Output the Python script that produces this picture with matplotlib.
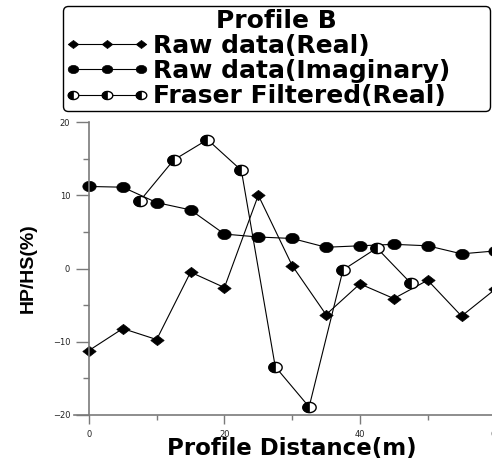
import numpy as np
import matplotlib
matplotlib.use("Agg")
from matplotlib import pyplot as plt
from matplotlib.path import Path
from matplotlib.lines import Line2D
from matplotlib.ticker import MultipleLocator

# values
raw_x = [0, 5, 10, 15, 20, 25, 30, 35, 40, 45, 50, 55, 60]
raw_real = [-11.2, -8.2, -9.7, -0.5, -2.6, 10.0, 0.4, -6.3, -2.1, -4.1, -1.6, -6.5, -2.8]
raw_imag = [11.2, 11.1, 9.0, 8.0, 4.7, 4.3, 4.1, 2.9, 3.1, 3.3, 3.1, 2.0, 2.4]
fraser_x = [7.5, 12.5, 17.5, 22.5, 27.5, 32.5, 37.5, 42.5, 47.5]
fraser_real = [9.2, 14.8, 17.6, 13.4, -13.4, -18.9, -0.2, 2.8, -2.0]

legend_title = "Profile B"
labels = ["Raw data(Real)", "Raw data(Imaginary)", "Fraser Filtered(Real)"]


def closed_path(xy):
    xy = np.vstack([xy, xy[:1]])
    return Path(xy, closed=True)


# squashed markers (the original picture is stretched sideways)
diamond = closed_path(np.array([(-0.65, 0), (0, 0.5), (0.65, 0), (0, -0.5)]))
t = np.linspace(0, 2 * np.pi, 64, endpoint=False)
ellipse = closed_path(np.column_stack([0.65 * np.cos(t), 0.5 * np.sin(t)]))
t2 = np.linspace(np.pi / 2, 3 * np.pi / 2, 33)
half_left = closed_path(np.column_stack([0.65 * np.cos(t2), 0.5 * np.sin(t2)]))

fig = plt.figure(figsize=(4.92, 4.62), dpi=100)
ax = fig.add_axes([74 / 492, 47 / 462, 435 / 492, 293 / 462])

ms = 9.6
ax.plot(raw_x, raw_real, color="black", lw=0.8, marker=diamond, ms=ms,
        mfc="black", mec="black", mew=0.5)
ax.plot(raw_x, raw_imag, color="black", lw=0.8, marker=ellipse, ms=ms,
        mfc="black", mec="black", mew=0.5)
ax.plot(fraser_x, fraser_real, color="black", lw=0.8, marker=ellipse, ms=ms,
        mfc="white", mec="black", mew=1.0)
ax.plot(fraser_x, fraser_real, ls="none", marker=half_left, ms=ms,
        mfc="black", mec="black", mew=0.5)

ax.set_xlim(-2.2, 62)
ax.set_ylim(-20, 20)

for side in ["top", "right"]:
    ax.spines[side].set_visible(False)
ax.spines["left"].set_position(("data", 0))
for side in ["left", "bottom"]:
    ax.spines[side].set_color("#7a7a7a")
    ax.spines[side].set_linewidth(1.2)

ax.xaxis.set_major_locator(MultipleLocator(20))
ax.xaxis.set_minor_locator(MultipleLocator(10))
ax.yaxis.set_major_locator(MultipleLocator(10))
ax.yaxis.set_minor_locator(MultipleLocator(5))
ax.tick_params(axis="both", which="both", direction="out", color="#7a7a7a",
               width=1.0, labelsize=6, labelcolor="#222222")
ax.tick_params(axis="x", which="major", length=6.5, pad=4)
ax.tick_params(axis="x", which="minor", length=3.6)
ax.tick_params(axis="y", which="major", length=9.5, pad=4)
ax.tick_params(axis="y", which="minor", length=4.5)

ax.set_xlabel("Profile Distance(m)", fontsize=16.5, fontweight="bold",
              family="DejaVu Sans", labelpad=-1)
ax.set_ylabel("HP/HS(%)", fontsize=14, fontweight="bold",
              family="Liberation Sans")
ax.yaxis.set_label_coords(-0.085, 0.5)

# legend proxies with smaller markers, as in the reference
lms = 7.6
h_real = Line2D([], [], color="black", lw=0.8, marker=diamond, ms=lms,
                mfc="black", mec="black", mew=0.5)
h_imag = Line2D([], [], color="black", lw=0.8, marker=ellipse, ms=lms,
                mfc="black", mec="black", mew=0.5)
h_fr1 = Line2D([], [], color="black", lw=0.8, marker=ellipse, ms=lms,
               mfc="white", mec="black", mew=1.0)
h_fr2 = Line2D([], [], ls="none", marker=half_left, ms=lms,
               mfc="black", mec="black", mew=0.5)

font = {"family": "DejaVu Sans", "weight": "bold", "size": 18}
leg = fig.legend([h_real, h_imag, (h_fr1, h_fr2)], labels,
                 loc="upper left", bbox_to_anchor=(63 / 492, 1 - 6 / 462, 427 / 492, 0),
                 mode="expand", numpoints=3, handlelength=3.3, handletextpad=0.2,
                 borderpad=0.1, labelspacing=0.05, borderaxespad=0,
                 prop=font, title=legend_title, title_fontproperties=font,
                 fancybox=True, framealpha=1, edgecolor="black")
leg.get_frame().set_linewidth(1.0)

plt.savefig("out.png", dpi=100)
